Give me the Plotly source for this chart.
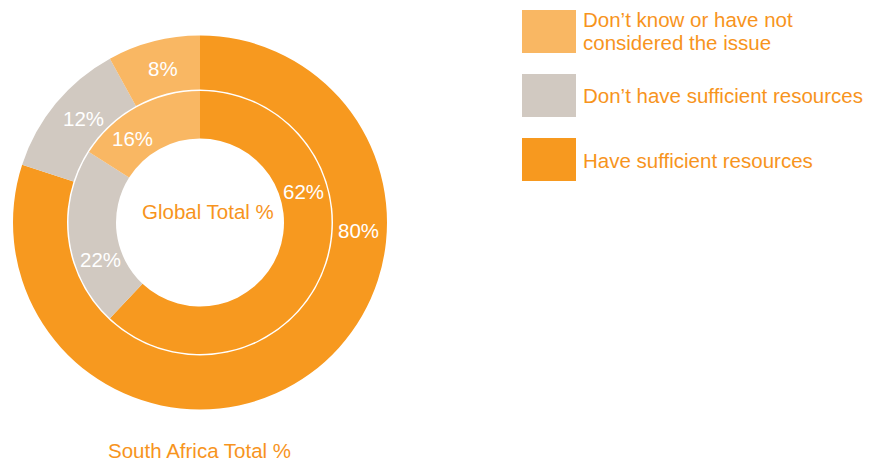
import plotly.graph_objects as go

# Survey answers, in clockwise order starting at 12 o'clock
categories = ["Have sufficient resources",
              "Don\u2019t have sufficient resources",
              "Don\u2019t know or have not<br>considered the issue"]
south_africa = [80, 12, 8]
global_total = [62, 22, 16]
colors = ["#F7991F", "#D1C9C1", "#F9B763"]
legend_order = [2, 1, 0]

ring_titles = ["South Africa Total %", "Global Total %"]
text_orange = "#F7941D"

W, H = 882, 461
cx, cy = 200, 222.5          # ring centre in pixels (from top-left)
r_outer, r_inner = 187, 131.5
FS = 20.5


def px_x(x):
    return x / W


def px_y(y):
    return 1 - y / H


def domain(r):
    return dict(x=[px_x(cx - r), px_x(cx + r)], y=[px_y(cy + r), px_y(cy - r)])


fig = go.Figure()
fig.add_trace(go.Pie(
    labels=categories, values=south_africa, sort=False, direction="clockwise",
    rotation=0, hole=133 / r_outer, domain=domain(r_outer),
    marker=dict(colors=colors, line=dict(width=0)),
    textinfo="none", hoverinfo="label+value", showlegend=False,
))
fig.add_trace(go.Pie(
    labels=categories, values=global_total, sort=False, direction="clockwise",
    rotation=0, hole=84 / r_inner, domain=domain(r_inner),
    marker=dict(colors=colors, line=dict(width=0)),
    textinfo="none", hoverinfo="label+value", showlegend=False,
))

font = "Liberation Sans, Arial, sans-serif"
annotations = []


def label(x, y, text, color, anchor="center"):
    annotations.append(dict(
        x=px_x(x), y=px_y(y), xref="paper", yref="paper",
        text=text, showarrow=False, xanchor=anchor, yanchor="middle",
        borderpad=0, font=dict(family=font, size=FS, color=color)))


# value labels placed on the rings
outer_pos = [(358, 230), (83, 118), (163, 68)]
inner_pos = [(303, 192), (100, 259), (132, 138)]
for vals, pos in ((south_africa, outer_pos), (global_total, inner_pos)):
    for v, (x, y) in zip(vals, pos):
        label(x, y, f"{v}%", "white")

# ring titles
label(199, 450, ring_titles[0], text_orange)
label(208, 211, ring_titles[1], text_orange)

# legend with large swatches, tight line spacing for wrapped entries
shapes = []
swatch_tops = [10, 74, 138]
text_centres = [31, 96, 160]
line_gap = 23.5
for i, top, tc in zip(legend_order, swatch_tops, text_centres):
    shapes.append(dict(type="rect", xref="paper", yref="paper",
                       x0=px_x(522), x1=px_x(576), y0=px_y(top + 43), y1=px_y(top),
                       fillcolor=colors[i], line=dict(width=0)))
    lines = categories[i].split("<br>")
    first = tc - line_gap * (len(lines) - 1) / 2
    for k, line in enumerate(lines):
        label(582, first + k * line_gap, line, text_orange, anchor="left")

fig.update_layout(
    width=W, height=H, margin=dict(l=0, r=0, t=0, b=0),
    paper_bgcolor="white", plot_bgcolor="white",
    annotations=annotations, shapes=shapes, showlegend=False,
)

fig.write_html("out.html")
